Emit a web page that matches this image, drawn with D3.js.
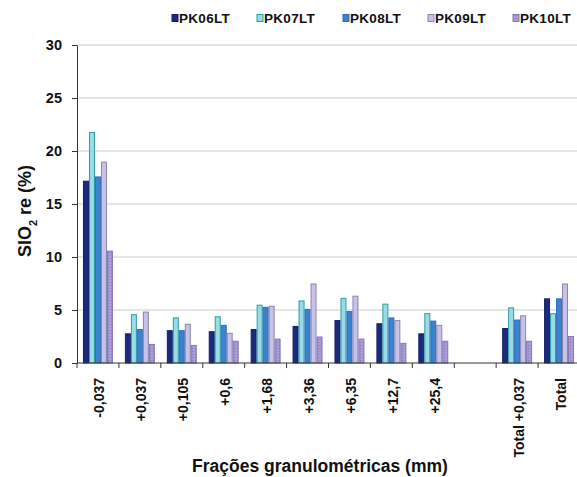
<!DOCTYPE html>
<html><head><meta charset="utf-8">
<script src="https://cdn.jsdelivr.net/npm/d3@7"></script>
<style>
body{margin:0;background:#fff;}
text{font-family:"Liberation Sans",Arial,sans-serif;font-weight:bold;fill:#111;}
</style></head>
<body><svg id="c" width="577" height="477"></svg>
<script>
const categories = ["-0,037","+0,037","+0,105","+0,6","+1,68","+3,36","+6,35","+12,7","+25,4"," ","Total +0,037","Total"];
const series = ["PK06LT","PK07LT","PK08LT","PK09LT","PK10LT"];
const PK06LT = [17.2, 2.8, 3.1, 3.0, 3.2, 3.5, 4.05, 3.75, 2.8, null, 3.3, 6.1];
const PK07LT = [21.8, 4.6, 4.3, 4.4, 5.5, 5.9, 6.15, 5.6, 4.7, null, 5.25, 4.7];
const PK08LT = [17.6, 3.2, 3.1, 3.6, 5.3, 5.1, 4.9, 4.3, 4.0, null, 4.1, 6.1];
const PK09LT = [19.0, 4.85, 3.7, 2.85, 5.4, 7.5, 6.35, 4.05, 3.6, null, 4.5, 7.5];
const PK10LT = [10.6, 1.8, 1.7, 2.1, 2.3, 2.5, 2.3, 1.9, 2.1, null, 2.1, 2.55];
const yTicks = [0,5,10,15,20,25,30];
const values = {PK06LT, PK07LT, PK08LT, PK09LT, PK10LT};

const fills = {PK06LT:"#1c2a7c", PK07LT:"#9adbe8", PK08LT:"#3b82d0", PK09LT:"#c8c2ea", PK10LT:"url(#dots)"};
const strokes = {PK06LT:"#15206a", PK07LT:"#2b9ea0", PK08LT:"#2f6fb8", PK09LT:"#8c84a8", PK10LT:"#8676b4"};

const svg = d3.select("#c");
const defs = svg.append("defs");
const pat = defs.append("pattern").attr("id","dots").attr("width",3).attr("height",3).attr("patternUnits","userSpaceOnUse");
pat.append("rect").attr("width",3).attr("height",3).attr("fill","#a597d4");
pat.append("rect").attr("x",0).attr("y",0).attr("width",1).attr("height",1).attr("fill","#8c7cc0");
pat.append("rect").attr("x",1.5).attr("y",1.5).attr("width",1).attr("height",1).attr("fill","#b9aee0");

const mLeft = 77, mRight = 580, mTop = 45, mBottom = 363;
const x = d3.scaleBand().domain(categories).range([mLeft, mRight]).padding(0);
const x1 = d3.scaleBand().domain(series).range([0, x.bandwidth()]).paddingInner(0).paddingOuter(1);
const y = d3.scaleLinear().domain([0,30]).range([mBottom, mTop]);

// gridlines
svg.append("g").selectAll("line").data(yTicks.filter(d=>d>0)).join("line")
  .attr("x1", mLeft).attr("x2", 577).attr("y1", d=>y(d)).attr("y2", d=>y(d))
  .attr("stroke","#cccccc").attr("stroke-width",1);

// bars
const g = svg.append("g");
series.forEach(s => {
  g.append("g").selectAll("rect").data(categories.map((c,i)=>({c, v: values[s][i]})).filter(d=>d.v!=null)).join("rect")
    .attr("x", d => x(d.c) + x1(s) + 0.5)
    .attr("y", d => y(d.v) + 0.5)
    .attr("width", x1.bandwidth() - 1)
    .attr("height", d => y(0) - y(d.v) - 0.5)
    .attr("fill", fills[s]).attr("stroke", strokes[s]).attr("stroke-width",1);
});

// y axis
const yAxis = d3.axisLeft(y).tickValues(yTicks).tickSize(5).tickSizeOuter(0).tickPadding(10);
const ya = svg.append("g").attr("transform",`translate(${mLeft},0)`).call(yAxis);
ya.select(".domain").attr("stroke","#333");
ya.selectAll(".tick line").attr("stroke","#333");
ya.selectAll("text").style("font-size","14.5px").style("font-family","'Liberation Sans',Arial,sans-serif").style("font-weight","bold").attr("fill","#111");

// x axis line + boundary ticks
svg.append("line").attr("x1",mLeft).attr("x2",577).attr("y1",mBottom).attr("y2",mBottom).attr("stroke","#333");
const bounds = categories.map(c=>x(c)).concat([x(categories[categories.length-1])+x.bandwidth()]);
svg.append("g").selectAll("line").data(bounds).join("line")
  .attr("x1",d=>d).attr("x2",d=>d).attr("y1",mBottom).attr("y2",mBottom+5).attr("stroke","#333");

// x labels
svg.append("g").selectAll("text").data(categories).join("text")
  .attr("transform", d => `translate(${x(d)+x.bandwidth()/2+6.5},${mBottom+15}) rotate(-90)`)
  .attr("text-anchor","end").style("font-size","14px").text(d=>d.trim());

// axis titles
svg.append("text").attr("x",320).attr("y",472).attr("text-anchor","middle").style("font-size","17.5px")
  .text("Frações granulométricas (mm)");
const yt = svg.append("text").attr("transform","translate(31,211) rotate(-90)").attr("text-anchor","middle").style("font-size","18px");
yt.append("tspan").text("SIO");
yt.append("tspan").attr("baseline-shift","sub").style("font-size","11px").text("2");
yt.append("tspan").text(" re (%)");

// legend
const legX = [172, 257, 343, 428, 513];
const lg = svg.append("g");
series.forEach((s,i)=>{
  lg.append("rect").attr("x",legX[i]).attr("y",14.5).attr("width",6).attr("height",7)
    .attr("fill",fills[s]).attr("stroke",strokes[s]).attr("stroke-width",1);
  lg.append("text").attr("x",legX[i]+7).attr("y",23).style("font-size","13.5px").style("letter-spacing","0.3px").text(s);
});
</script></body></html>
